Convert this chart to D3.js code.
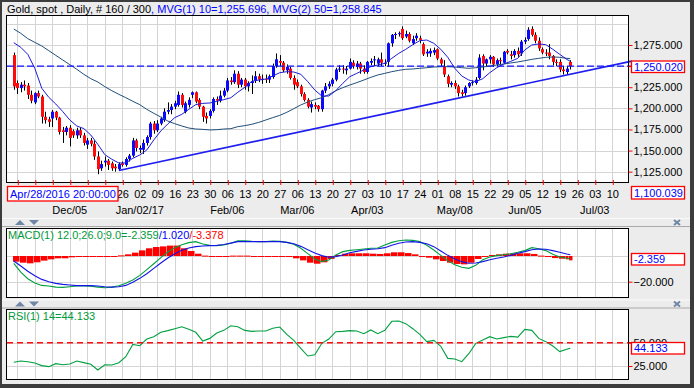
<!DOCTYPE html>
<html><head><meta charset="utf-8">
<script src="https://cdn.jsdelivr.net/npm/d3@7"></script>
<style>
body{margin:0;background:#ececec;}
svg{display:block;font-family:"Liberation Sans",Arial,sans-serif;}
</style></head>
<body><svg id="c" width="694" height="388"></svg>
<script>
// ---------- DATA ----------
// Daily candles, index 0 = Nov 11 2016 ... index 159 = Jun 22 2017
const opens = [1263,1230,1224,1228,1227,1216,1207,1218,1214,1190,1187,1188,1196,1189,1174,1172,1177,1173,1168,1174,
1168,1157,1162,1158,1143,1129,1136,1138,1135,1131,1128,1135,1133,1140,1144,1162,1151,1151,1159,1166,
1182,1174,1182,1186,1196,1198,1202,1204,1216,1196,1204,1216,1219,1210,1202,1191,1191,1197,1211,1209,
1215,1221,1233,1231,1241,1228,1234,1226,1230,1233,1238,1234,1235,1234,1237,1250,1256,1254,1245,1247,
1236,1231,1226,1217,1210,1201,1204,1203,1199,1221,1226,1229,1234,1246,1247,1245,1247,1254,1249,1253,
1247,1243,1254,1257,1253,1258,1253,1255,1277,1287,1288,1294,1285,1288,1277,1283,1283,1276,1265,1265,
1266,1270,1258,1249,1238,1228,1230,1226,1219,1218,1226,1230,1230,1236,1262,1253,1258,1261,1252,1257,
1254,1268,1264,1263,1268,1265,1279,1282,1294,1287,1280,1270,1266,1266,1262,1255,1255,1246,1243,1255];
const highs = [1266,1233,1231,1233,1230,1221,1219,1221,1216,1196,1190,1198,1197,1190,1178,1179,1180,1175,1177,1177,
1171,1165,1165,1162,1149,1138,1143,1140,1137,1134,1136,1137,1142,1146,1165,1164,1156,1163,1168,1184,
1185,1186,1190,1200,1207,1205,1209,1220,1218,1208,1213,1220,1220,1212,1203,1195,1199,1213,1214,1221,
1224,1236,1237,1245,1244,1236,1236,1232,1239,1244,1241,1240,1240,1240,1253,1265,1263,1256,1252,1249,
1239,1234,1228,1219,1212,1208,1207,1204,1222,1230,1232,1236,1248,1251,1251,1250,1259,1257,1256,1255,
1251,1256,1259,1262,1260,1266,1258,1278,1288,1290,1291,1297,1292,1290,1286,1289,1286,1278,1270,1271,
1272,1271,1260,1257,1240,1232,1233,1228,1222,1227,1231,1233,1237,1264,1264,1259,1263,1262,1259,1260,
1268,1270,1268,1270,1272,1281,1284,1296,1297,1290,1284,1272,1270,1276,1263,1258,1258,1250,1250,1257];
const lows = [1222,1217,1219,1221,1211,1206,1205,1212,1182,1182,1178,1178,1186,1169,1159,1168,1155,1165,1164,1165,
1156,1152,1155,1139,1122,1126,1131,1127,1126,1125,1126,1131,1131,1137,1142,1149,1147,1146,1156,1163,
1170,1172,1180,1184,1193,1193,1199,1202,1201,1194,1201,1212,1206,1199,1184,1182,1188,1195,1204,1207,
1213,1219,1228,1229,1224,1225,1222,1220,1217,1230,1231,1229,1230,1230,1235,1248,1250,1243,1241,1234,
1222,1224,1214,1208,1200,1195,1199,1196,1196,1218,1223,1226,1232,1243,1241,1240,1246,1247,1246,1241,
1241,1241,1251,1250,1250,1250,1250,1249,1273,1282,1285,1281,1283,1278,1275,1280,1277,1262,1261,1261,
1263,1257,1250,1237,1225,1225,1223,1214,1214,1215,1224,1227,1228,1234,1245,1250,1253,1249,1250,1252,
1253,1264,1258,1260,1261,1262,1276,1280,1285,1277,1268,1264,1262,1258,1251,1250,1243,1240,1240,1246];
const closes = [1226,1224,1228,1226,1216,1209,1218,1214,1190,1186,1184,1196,1189,1172,1172,1177,1165,1168,1174,1168,
1159,1162,1158,1143,1128,1134,1138,1133,1129,1129,1134,1133,1140,1144,1162,1153,1153,1159,1166,1182,
1174,1182,1188,1196,1198,1202,1206,1216,1204,1206,1210,1219,1208,1202,1190,1188,1197,1211,1209,1215,
1221,1233,1231,1241,1228,1234,1226,1230,1232,1238,1234,1235,1234,1238,1250,1258,1254,1245,1249,1236,
1228,1226,1217,1210,1202,1205,1202,1199,1221,1226,1229,1234,1246,1247,1246,1247,1255,1250,1253,1247,
1243,1255,1256,1258,1258,1254,1254,1277,1287,1288,1289,1283,1288,1280,1282,1286,1281,1264,1267,1268,
1269,1259,1253,1240,1229,1230,1226,1218,1217,1225,1230,1231,1234,1260,1253,1258,1261,1252,1257,1256,
1267,1266,1262,1268,1264,1279,1281,1293,1287,1280,1271,1266,1265,1262,1255,1254,1246,1244,1247,1250.02];

// Indicator lines read every 2nd bar (0,2,...,158) plus the last bar 159
const ma10 = [1277.7,1272.2,1263.9,1247.4,1223.7,1213.0,1205.1,1196.1,1186.2,1179.1,1176.0,1168.4,1157.4,1145.2,1139.7,1135.3,1135.3,1140.8,1144.8,1150.7,
1162.6,1173.2,1181.5,1189.0,1192.9,1198.8,1204.4,1205.9,1206.3,1208.3,1210.3,1212.5,1219.0,1224.9,1232.0,1233.5,1234.7,1238.3,1242.2,1243.4,
1243.0,1240.3,1231.6,1221.7,1214.6,1214.6,1220.9,1229.6,1237.5,1241.4,1245.4,1249.3,1251.3,1253.3,1259.2,1265.1,1269.9,1275.4,1280.1,1280.9,
1277.0,1269.9,1260.4,1247.4,1238.3,1233.5,1231.6,1235.1,1242.2,1248.1,1252.5,1255.6,1259.2,1269.1,1275.0,1276.2,1275.4,1269.9,1263.9,1258.0,1255.7];
const ma50 = [1293.9,1288.8,1282.5,1278.1,1273.8,1268.3,1262.7,1257.2,1251.7,1246.2,1240.3,1235.1,1231.2,1225.7,1220.9,1216.6,1212.6,1208.3,1204.3,1198.8,
1194.1,1189.7,1185.0,1181.8,1179.1,1176.7,1175.5,1175.1,1174.4,1174.7,1175.5,1175.9,1178.3,1179.5,1181.1,1183.4,1186.2,1189.0,1191.7,1195.3,
1199.6,1204.0,1207.5,1210.3,1212.6,1216.2,1220.9,1224.5,1227.6,1230.4,1233.5,1236.7,1239.5,1241.4,1243.4,1245.0,1246.2,1246.6,1247.4,1248.1,
1248.9,1249.3,1249.3,1248.9,1248.1,1247.4,1248.1,1248.9,1250.1,1251.3,1252.5,1253.7,1254.9,1256.4,1258.0,1259.2,1260.4,1260.8,1260.4,1259.2,1258.8];
const macdLine = [-5.7,-12.5,-17.7,-21.0,-22.9,-23.4,-24.2,-24.4,-23.9,-23.4,-23.4,-23.6,-24.2,-24.7,-24.2,-23.1,-21.3,-18.7,-15.1,-10.6,
-6.0,-1.3,3.1,6.5,8.8,10.4,11.2,9.4,8.3,8.1,8.6,9.9,11.9,11.9,11.4,11.2,11.2,11.7,11.4,10.6,
9.1,6.0,1.8,-2.3,-4.4,-3.1,0.8,3.4,4.4,4.9,5.5,6.0,6.2,8.6,10.6,11.9,12.5,12.2,11.2,8.3,
4.7,0.5,-3.6,-6.8,-8.8,-9.6,-7.3,-2.9,-0.8,0.3,1.0,1.8,2.9,4.2,6.5,5.7,4.2,1.3,-0.8,-1.8,-2.359];
const signalLine = [-3.9,-7.8,-11.9,-15.3,-18.2,-20.0,-21.3,-22.1,-22.6,-23.1,-23.1,-23.1,-23.4,-23.9,-24.2,-23.9,-22.9,-20.5,-17.4,-13.8,
-9.6,-5.5,-1.6,1.8,4.4,6.2,7.3,7.8,8.1,8.3,8.9,10.0,11.2,11.2,11.2,11.2,11.2,11.2,11.2,10.6,
9.6,7.5,4.9,2.3,0.3,-1.0,-0.5,0.8,2.6,3.6,4.7,5.2,5.7,6.5,8.3,9.9,10.9,11.2,10.6,9.6,
7.3,3.9,0.5,-2.3,-4.4,-5.7,-5.5,-4.4,-2.9,-1.8,-0.8,0.5,2.1,3.4,4.9,5.5,5.2,4.2,2.9,1.6,1.02];
const macdHist = [-4.4,-5.2,-5.7,-4.9,-3.6,-2.6,-1.8,-1.8,-1.0,-0.5,-0.5,-0.5,-0.8,-0.8,-0.3,0.5,1.3,2.6,4.4,6.0,
7.0,7.5,8.1,8.1,6.0,3.9,1.8,0.3,-0.5,-0.3,0,0.3,0.3,0.3,0,0,0,-0.3,-0.5,-0.8,
-1.8,-3.4,-5.2,-6.0,-4.9,-2.3,0.8,1.8,2.1,2.1,2.1,1.8,1.6,2.1,2.9,2.9,2.3,1.3,0,-1.3,
-2.6,-3.9,-5.2,-6.2,-6.5,-5.2,-2.3,0,0.8,1.3,1.8,2.1,2.1,2.1,1.6,0.3,-0.8,-1.6,-2.1,-2.6,-3.378];
const rsi = [29.0,30.4,29.6,28.2,25.4,24.3,27.5,26.4,27.1,30.4,28.6,26.8,20.7,26.4,26.1,28.6,35.0,48.2,46.8,53.9,
56.4,61.1,62.9,65.0,67.1,64.3,61.1,51.8,54.6,60.4,63.2,68.2,67.1,63.2,62.1,62.5,62.5,65.4,66.8,58.9,
52.5,43.9,35.7,37.1,49.3,53.9,61.8,62.1,62.9,62.5,59.6,63.6,59.6,63.2,72.9,73.2,70.4,65.0,58.9,51.1,
52.5,46.1,33.2,32.5,29.6,38.2,49.3,52.9,56.4,53.9,55.4,56.8,56.0,64.3,63.2,54.6,51.1,46.4,40.4,42.9,44.133];

const trendIdx = [30, 176.6];
const trendVal = [1126.5, 1255.9];
const lastPrice = 1250.02;

const priceTicks = [1125,1150,1175,1200,1225,1250,1275];
const priceGrid = [1125,1150,1175,1200,1225,1250,1275,1300];
// weekly (Monday) labels; the first six sit under the date box in the reference and are not visible
const weekLabels = ["14","21","28","05","12","19","26","02","09","16","23","30","06","13","20","27","06","13","20","27",
"03","10","17","24","01","08","15","22","29","05","12","19","26","03","10"];
const hiddenWeeks = 6;
const monthLabels = ["Dec/05","Jan/02/17","Feb/06","Mar/06","Apr/03","May/08","Jun/05","Jul/03"];
const monthWeek = [3,7,12,16,20,25,29,33];

// ---------- SCALES ----------
const svg = d3.select("#c");
const sampleIdx = d3.range(0,160,2).concat([159]);
const mondays = weekLabels.map((_,k)=>1+5*k);
const xs = d3.scaleLinear().domain([-1.943,175.49]).range([7,628]);
const ys = d3.scaleLinear().domain([1111.6,1310.5]).range([183,15]);
const ym = d3.scaleLinear().domain([-32.7,21.8]).range([298,228]);
const yr = d3.scaleLinear().domain([10.0,86.1]).range([380,309]);
const px = i => Math.round(xs(i));

svg.append("rect").attr("width",694).attr("height",388).attr("fill","#ececec");

function panel(y0,y1,gridVals,yScale){
  svg.append("rect").attr("x",7).attr("y",y0).attr("width",621.5).attr("height",y1-y0).attr("fill","#fff");
  svg.append("g").selectAll("line").data(mondays).join("line")
    .attr("x1",d=>px(d)+0.5).attr("x2",d=>px(d)+0.5).attr("y1",y0).attr("y2",y1)
    .attr("stroke","#d4d4d4");
  svg.append("g").selectAll("line").data(gridVals).join("line")
    .attr("x1",7).attr("x2",628).attr("y1",d=>Math.round(yScale(d))+0.5).attr("y2",d=>Math.round(yScale(d))+0.5)
    .attr("stroke","#d4d4d4");
}
function border(y0,y1){
  svg.append("rect").attr("x",6.5).attr("y",y0+0.5).attr("width",622).attr("height",y1-y0-1)
    .attr("fill","none").attr("stroke","#000");
}

// ---------- MAIN PANEL ----------
panel(15,183,priceGrid,ys);

const candles = closes.map((c,i)=>({i,o:opens[i],h:highs[i],l:lows[i],c}));
const cg = svg.append("g");
cg.selectAll("line").data(candles).join("line")
  .attr("x1",d=>px(d.i)+0.5).attr("x2",d=>px(d.i)+0.5)
  .attr("y1",d=>ys(d.h)).attr("y2",d=>ys(d.l)).attr("stroke","#000").attr("stroke-width",1);
cg.selectAll("rect").data(candles).join("rect")
  .attr("x",d=>px(d.i)-1).attr("width",3)
  .attr("y",d=>ys(Math.max(d.o,d.c)))
  .attr("height",d=>Math.max(1,Math.abs(ys(d.o)-ys(d.c))))
  .attr("fill",d=>d.c>d.o?"#0a0aff":(d.c<d.o?"#ff0a0a":"#000"));

const lineS = (scale,arr)=>d3.line().x((d,k)=>xs(sampleIdx[k])).y(d=>scale(d))(arr);
svg.append("path").attr("d",lineS(ys,ma50)).attr("fill","none").attr("stroke","#1f4e79").attr("stroke-width",1);
svg.append("path").attr("d",lineS(ys,ma10)).attr("fill","none").attr("stroke","#1c1cd8").attr("stroke-width",1);

svg.append("line").attr("x1",xs(trendIdx[0])).attr("y1",ys(trendVal[0]))
  .attr("x2",xs(trendIdx[1])).attr("y2",ys(trendVal[1]))
  .attr("stroke","#1e1ef0").attr("stroke-width",1.6);
svg.append("line").attr("x1",7).attr("x2",631).attr("y1",ys(lastPrice)).attr("y2",ys(lastPrice))
  .attr("stroke","#1010ff").attr("stroke-width",1.4).attr("stroke-dasharray","7,3");
border(15,183);

// right price axis
const ya = svg.append("g").attr("transform","translate(628.5,0)")
  .call(d3.axisRight(ys).tickValues(priceTicks).tickFormat(d3.format(",.3f")).tickSize(4).tickPadding(1));
ya.select(".domain").remove();
ya.selectAll("line").attr("stroke","#ff0000");
ya.selectAll("text").attr("fill","#000").style("font-size","11px").style("font-family","Liberation Sans, Arial");

// bottom date axis
const xa = svg.append("g").attr("transform","translate(0,180)")
  .call(d3.axisBottom(xs).tickValues(mondays).tickFormat((d,k)=>weekLabels[k]).tickSize(5).tickPadding(5.5));
xa.select(".domain").remove();
xa.selectAll("line").attr("stroke","#ff0000").attr("transform","translate(0.5,0)");
xa.selectAll("text").attr("fill","#000").style("font-size","11px").style("font-family","Liberation Sans, Arial");
xa.selectAll("text").filter((d,k)=>k<hiddenWeeks).remove();
svg.append("g").selectAll("text").data(monthLabels).join("text")
  .attr("x",(d,k)=>xs(mondays[monthWeek[k]])).attr("y",213.5).attr("text-anchor","middle")
  .style("font-size","11px").attr("fill","#000").text(d=>d);

function valBox(x,y,w,h,txt,tx,ty){
  svg.append("rect").attr("x",x).attr("y",y).attr("width",w).attr("height",h)
    .attr("fill","#fff").attr("stroke","#ff0000").attr("stroke-width",1.3);
  svg.append("text").attr("x",tx).attr("y",ty).attr("fill","#0000ff").style("font-size","11px").text(txt);
}
valBox(7.5,186.5,110.5,14.5,"Apr/28/2016 20:00:00",10,198.3);
valBox(631.5,186.5,53,12.5,"1,100.039",634,197);
valBox(631.5,61,53,11.5,d3.format(",.3f")(lastPrice),634,70.6);

// title
const tt = svg.append("text").attr("x",7).attr("y",12.5).style("font-size","11px");
tt.append("tspan").attr("fill","#000").text("Gold, spot , Daily, # 160 / 300");
tt.append("tspan").attr("fill","#0000ff").text(", MVG(1) 10=1,255.696, MVG(2) 50=1,258.845");

// pane separators
function paneHeader(y){
  svg.append("line").attr("x1",2).attr("x2",690).attr("y1",y+0.5).attr("y2",y+0.5).attr("stroke","#fafafa");
  svg.append("line").attr("x1",2).attr("x2",690).attr("y1",y+8.5).attr("y2",y+8.5).attr("stroke","#a9a9a9");
  const c="#6f86a6";
  svg.append("path").attr("d",`M15,${y+7}L20,${y+2}L25,${y+7}Z`).attr("fill",c);
  svg.append("path").attr("d",`M29,${y+2}L39,${y+2}L34,${y+7}Z`).attr("fill",c);
  svg.append("path").attr("d",`M674,${y+2}L680,${y+7}M680,${y+2}L674,${y+7}`).attr("stroke",c).attr("stroke-width",2);
}
paneHeader(218);
paneHeader(299.5);

// ---------- MACD PANEL ----------
panel(228,298,[0,-20],ym);
const histData = macdHist.map((v,k)=>({i:sampleIdx[k],n:(k<sampleIdx.length-1?sampleIdx[k+1]:sampleIdx[k]+1),v}));
svg.append("g").selectAll("rect").data(histData).join("rect")
  .attr("x",d=>px(d.i)-1).attr("width",d=>Math.max(2,px(d.n)-px(d.i)-0.5))
  .attr("y",d=>Math.min(ym(0),ym(d.v))).attr("height",d=>Math.max(1,Math.abs(ym(d.v)-ym(0))))
  .attr("fill","#ff0000");
svg.append("path").attr("d",lineS(ym,macdLine)).attr("fill","none").attr("stroke","#00a040").attr("stroke-width",1.1);
svg.append("path").attr("d",lineS(ym,signalLine)).attr("fill","none").attr("stroke","#1414e6").attr("stroke-width",1.1);
border(228,298);
const ma = svg.append("g").attr("transform","translate(628.5,0)")
  .call(d3.axisRight(ym).tickValues([-20]).tickFormat(d3.format(".3f")).tickSize(4).tickPadding(1));
ma.select(".domain").remove();
ma.selectAll("line").attr("stroke","#ff0000");
ma.selectAll("text").attr("fill","#000").style("font-size","11px").style("font-family","Liberation Sans, Arial");
valBox(631.5,253.5,53,11.5,"-2.359",634,263);
const mt = svg.append("text").attr("x",8).attr("y",238.5).style("font-size","11px");
mt.append("tspan").attr("fill","#009a3a").text("MACD(1) 12.0;26.0;9.0=-2.359");
mt.append("tspan").attr("fill","#0000ff").text("/1.020");
mt.append("tspan").attr("fill","#ff0000").text("/-3.378");

// ---------- RSI PANEL ----------
panel(309,380,[25,50],yr);
svg.append("path").attr("d",lineS(yr,rsi)).attr("fill","none").attr("stroke","#00a040").attr("stroke-width",1.1);
svg.append("line").attr("x1",7).attr("x2",631).attr("y1",yr(50)).attr("y2",yr(50))
  .attr("stroke","#ff1010").attr("stroke-width",1.5).attr("stroke-dasharray","6,4");
border(309,380);
const ra = svg.append("g").attr("transform","translate(628.5,0)")
  .call(d3.axisRight(yr).tickValues([25,50]).tickFormat(d3.format(".3f")).tickSize(4).tickPadding(1));
ra.select(".domain").remove();
ra.selectAll("line").attr("stroke","#ff0000");
ra.selectAll("text").attr("fill","#000").style("font-size","11px").style("font-family","Liberation Sans, Arial");
valBox(631.5,342.5,53,11.5,"44.133",634,352.3);
svg.append("text").attr("x",8).attr("y",319.5).style("font-size","11px").attr("fill","#009a3a").text("RSI(1) 14=44.133");

// ---------- window frame ----------
const fr = "#3c3c3c";
svg.append("rect").attr("x",0).attr("y",0).attr("width",694).attr("height",2).attr("fill",fr);
svg.append("rect").attr("x",0).attr("y",0).attr("width",2).attr("height",388).attr("fill",fr);
svg.append("rect").attr("x",690).attr("y",0).attr("width",4).attr("height",388).attr("fill",fr);
svg.append("rect").attr("x",0).attr("y",384).attr("width",694).attr("height",4).attr("fill",fr);
</script>
</body></html>
